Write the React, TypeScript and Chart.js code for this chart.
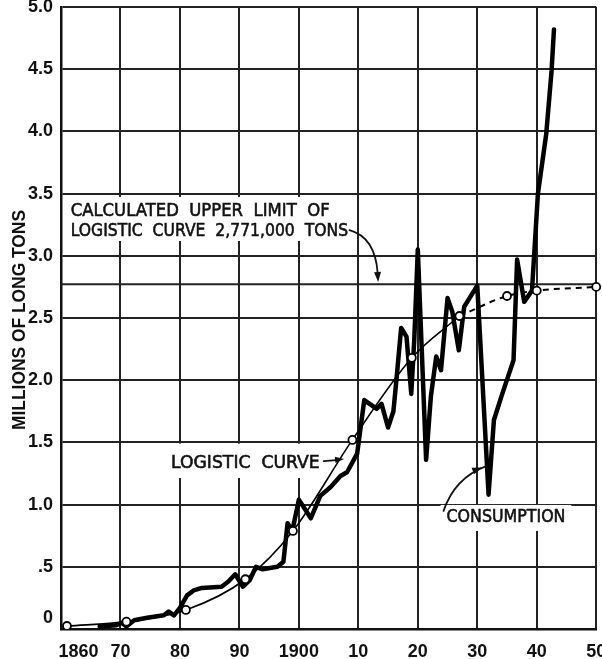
import React, { useEffect, useRef } from 'react';
import { Chart, registerables } from 'chart.js';

Chart.register(...registerables);

// ---- data ----
const consumptionYears = [
  1866.5, 1869.3, 1870.2, 1871.0, 1872.3, 1874.5, 1877.3, 1878.1, 1879.0, 1880.0,
  1881.2, 1882.3, 1883.7, 1887.0, 1888.1, 1889.3, 1890.6, 1891.7, 1892.8, 1893.9,
  1896.4, 1897.4, 1898.1, 1898.9, 1900.0, 1902.0, 1903.6, 1905.3, 1907.0, 1908.1,
  1909.8, 1911.0, 1913.1, 1913.9, 1915.0, 1915.9, 1916.4, 1917.2, 1918.1, 1918.9,
  1919.4, 1920.0, 1920.6, 1921.4, 1922.2, 1923.1, 1923.9, 1925.0, 1925.8, 1926.9,
  1927.8, 1930.0, 1931.9, 1932.8, 1934.2, 1936.1, 1936.7, 1937.9, 1939.2, 1940.2,
  1941.6, 1942.5, 1942.9,
];
const consumptionValues = [
  0.02, 0.03, 0.05, 0.02, 0.07, 0.09, 0.11, 0.14, 0.11, 0.17,
  0.27, 0.31, 0.33, 0.34, 0.38, 0.44, 0.34, 0.39, 0.50, 0.48,
  0.50, 0.54, 0.85, 0.79, 1.04, 0.89, 1.07, 1.14, 1.23, 1.26,
  1.41, 1.84, 1.77, 1.81, 1.62, 1.75, 2.0, 2.42, 2.35, 1.89,
  2.32, 3.05, 2.32, 1.36, 1.87, 2.19, 2.08, 2.66, 2.55, 2.24,
  2.59, 2.76, 1.08, 1.68, 1.89, 2.16, 2.97, 2.63, 2.72, 3.5,
  3.98, 4.49, 4.82,
];
const logisticYears = [1861, 1871, 1881, 1891, 1899, 1909, 1919, 1927];
const logisticValues = [0.024, 0.059, 0.153, 0.40, 0.788, 1.52, 2.18, 2.516];
const projectedYears = [1927, 1935, 1940, 1950];
const projectedValues = [2.516, 2.677, 2.72, 2.75];
const upperLimitYears = [1860, 1950];
const upperLimitValue = 2.771;

const xTickValues = [1860, 1870, 1880, 1890, 1900, 1910, 1920, 1930, 1940, 1950];
const xTickLabels = ['1860', '70', '80', '90', '1900', '10', '20', '30', '40', '50'];
const yTickValues = [0, 0.5, 1, 1.5, 2, 2.5, 3, 3.5, 4, 4.5, 5];
const yTickLabels = ['0', '.5', '1.0', '1.5', '2.0', '2.5', '3.0', '3.5', '4.0', '4.5', '5.0'];

const limitNoteLines = ['CALCULATED  UPPER  LIMIT  OF', 'LOGISTIC  CURVE  2,771,000  TONS'];
const curveNote = 'LOGISTIC  CURVE';
const consumptionNote = 'CONSUMPTION';
const yTitle = 'MILLIONS OF LONG TONS';

const INK = '#111';
const GRID = '#222';

function fitText(ctx: CanvasRenderingContext2D, text: string, left: number, right: number,
  capMid: number, size: number, family: string, weight: string) {
  ctx.save();
  ctx.font = `${weight} ${size}px ${family}`;
  const w = ctx.measureText(text).width;
  ctx.translate(left, capMid + size * 0.36);
  ctx.scale((right - left) / w, 1);
  ctx.textAlign = 'left';
  ctx.textBaseline = 'alphabetic';
  ctx.fillStyle = INK;
  ctx.strokeStyle = INK;
  ctx.lineWidth = 0.6;
  ctx.fillText(text, 0, 0);
  ctx.strokeText(text, 0, 0);
  ctx.restore();
}

function arrowHead(ctx: CanvasRenderingContext2D, tx: number, ty: number, angle: number, len = 9, half = 3.5) {
  ctx.save();
  ctx.translate(tx, ty);
  ctx.rotate(angle);
  ctx.beginPath();
  ctx.moveTo(0, 0);
  ctx.lineTo(-len, -half);
  ctx.lineTo(-len, half);
  ctx.closePath();
  ctx.fillStyle = INK;
  ctx.fill();
  ctx.restore();
}

const notesPlugin = {
  id: 'notes',
  beforeDatasetsDraw(chart: any) {
    const ctx: CanvasRenderingContext2D = chart.ctx;
    const X = (v: number) => chart.scales.x.getPixelForValue(v);
    const Y = (v: number) => chart.scales.y.getPixelForValue(v);
    ctx.save();
    ctx.fillStyle = '#fff';
    const box = (x0: number, x1: number, y0: number, y1: number) =>
      ctx.fillRect(X(x0), Y(y1), X(x1) - X(x0), Y(y0) - Y(y1));
    box(1860.33, 1909.17, 3.119, 3.473);
    box(1877.67, 1904.33, 1.214, 1.49);
    box(1923.83, 1945.83, 0.788, 0.997);
    ctx.restore();
  },
  afterDatasetsDraw(chart: any) {
    const ctx: CanvasRenderingContext2D = chart.ctx;
    const X = (v: number) => chart.scales.x.getPixelForValue(v);
    const Y = (v: number) => chart.scales.y.getPixelForValue(v);
    const fam = '"DejaVu Sans", sans-serif';
    fitText(ctx, limitNoteLines[0], X(1861.62), X(1905.17), Y(3.368), 17.5, fam, 'normal');
    fitText(ctx, limitNoteLines[1], X(1861.62), X(1908.28), Y(3.207), 17.5, fam, 'normal');
    fitText(ctx, curveNote, X(1878.5), X(1903.5), Y(1.346), 17.5, fam, 'normal');
    fitText(ctx, consumptionNote, X(1924.83), X(1944.83), Y(0.908), 17.5, fam, 'normal');

    ctx.save();
    ctx.strokeStyle = INK;
    ctx.lineWidth = 1.8;
    ctx.lineCap = 'round';
    // arrow to upper limit line
    ctx.beginPath();
    ctx.moveTo(X(1908.5), Y(3.207));
    ctx.quadraticCurveTo(X(1912.83), Y(3.151), X(1913.25), Y(2.862));
    ctx.stroke();
    arrowHead(ctx, X(1913.33), Y(2.79), Math.atan2(Y(2.79) - Y(2.9), X(1913.33) - X(1913.2)), 10, 3.5);
    // arrow to logistic curve
    ctx.beginPath();
    ctx.moveTo(X(1904.17), Y(1.35));
    ctx.lineTo(X(1906.3), Y(1.358));
    ctx.stroke();
    arrowHead(ctx, X(1907.6), Y(1.367), Math.atan2(Y(1.367) - Y(1.35), X(1907.6) - X(1904.17)), 9, 3.2);
    // arrow to consumption
    ctx.beginPath();
    ctx.moveTo(X(1924.33), Y(0.949));
    ctx.quadraticCurveTo(X(1926.17), Y(1.214), X(1931.5), Y(1.31));
    ctx.stroke();
    arrowHead(ctx, X(1930.83), Y(1.298), Math.atan2(Y(1.31) - Y(1.214), X(1931.5) - X(1926.17)), 10, 3.5);
    ctx.restore();

    // y-axis title
    const area = chart.chartArea;
    ctx.save();
    ctx.translate(area.left - 42.5, (area.top + area.bottom) / 2 + 2);
    ctx.rotate(-Math.PI / 2);
    ctx.font = 'bold 19px "Liberation Sans", sans-serif';
    const w = ctx.measureText(yTitle).width;
    ctx.scale(220 / w, 1);
    ctx.textAlign = 'center';
    ctx.textBaseline = 'alphabetic';
    ctx.fillStyle = INK;
    ctx.fillText(yTitle, 0, 19 * 0.36);
    ctx.restore();
  },
};

export default function App() {
  const ref = useRef<HTMLCanvasElement>(null);
  useEffect(() => {
    const canvas = ref.current as HTMLCanvasElement;
    const tickFont = { family: '"Liberation Sans", sans-serif', weight: 'bold' as const, size: 18 };
    const chart = new Chart(canvas, {
      type: 'line',
      data: {
        datasets: [
          {
            label: 'Logistic curve',
            data: logisticYears.map((x, i) => ({ x, y: logisticValues[i] })),
            borderColor: '#000',
            borderWidth: 1.6,
            pointRadius: 4,
            pointBorderWidth: 1.8,
            pointBackgroundColor: '#fff',
            pointBorderColor: '#000',
            cubicInterpolationMode: 'monotone',
            fill: false,
          },
          {
            label: 'Logistic curve (projected)',
            data: projectedYears.map((x, i) => ({ x, y: projectedValues[i] })),
            borderColor: '#000',
            borderWidth: 2,
            borderDash: [6, 5],
            pointRadius: [0, 4, 4, 4],
            pointBorderWidth: 1.8,
            pointBackgroundColor: '#fff',
            pointBorderColor: '#000',
            cubicInterpolationMode: 'monotone',
            fill: false,
            clip: 10,
          },
          {
            label: 'Consumption',
            data: consumptionYears.map((x, i) => ({ x, y: consumptionValues[i] })),
            borderColor: '#000',
            borderWidth: 4.5,
            pointRadius: 0,
            tension: 0,
            borderJoinStyle: 'round',
            borderCapStyle: 'round',
            fill: false,
          },
          {
            label: 'Upper limit',
            data: upperLimitYears.map((x) => ({ x, y: upperLimitValue })),
            borderColor: GRID,
            borderWidth: 2,
            pointRadius: 0,
            fill: false,
          },
        ],
      } as any,
      options: {
        animation: false,
        responsive: false,
        layout: { padding: { top: 7, right: 1, left: 0, bottom: 0 } },
        plugins: { legend: { display: false }, tooltip: { enabled: false } },
        scales: {
          x: {
            type: 'linear',
            min: 1860,
            max: 1950,
            afterBuildTicks: (s: any) => { s.ticks = xTickValues.map((v) => ({ value: v })); },
            afterFit: (s: any) => { s.height = 30; s.paddingLeft = 0; s.paddingRight = 0; },
            ticks: {
              autoSkip: false,
              maxRotation: 0,
              padding: 12,
              color: INK,
              font: tickFont,
              callback: (_v: any, i: number) => (i === 0 ? '       ' + xTickLabels[0] : xTickLabels[i]),
            },
            grid: { color: GRID, lineWidth: 2, drawTicks: false },
            border: { color: INK, width: 2.5 },
          },
          y: {
            type: 'linear',
            min: 0,
            max: 5,
            afterBuildTicks: (s: any) => { s.ticks = yTickValues.map((v) => ({ value: v })); },
            afterFit: (s: any) => { s.width = 61; s.paddingTop = 0; s.paddingBottom = 0; },
            ticks: {
              autoSkip: false,
              padding: 8,
              color: INK,
              font: tickFont,
              callback: (_v: any, i: number) => (i === 0 ? [yTickLabels[0], ''] : yTickLabels[i]),
            },
            grid: { color: GRID, lineWidth: 2, drawTicks: false },
            border: { color: INK, width: 2.5 },
          },
        },
      } as any,
      plugins: [notesPlugin],
    });
    return () => chart.destroy();
  }, []);
  return (
    <div style={{ position: 'absolute', left: 0, top: 0, width: 602, height: 659, background: '#fff' }}>
      <canvas ref={ref} width={602} height={659} style={{ display: 'block' }} />
    </div>
  );
}
